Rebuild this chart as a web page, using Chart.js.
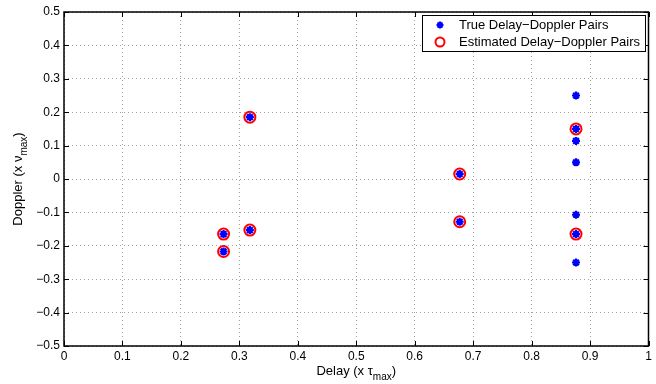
<!DOCTYPE html>
<html>
<head>
<meta charset="utf-8">
<script src="https://cdn.jsdelivr.net/npm/chart.js@4"></script>
<style>
  html, body { margin: 0; padding: 0; background: #fff; }
  #wrap { width: 656px; height: 384px; }
</style>
</head>
<body>
<div id="wrap"><canvas id="chart" width="656" height="384"></canvas></div>
<script>
// === DATA ===
const trueDelay   = [0.273, 0.273, 0.318, 0.318, 0.677, 0.677, 0.876, 0.876, 0.876, 0.876, 0.876, 0.876, 0.876];
const trueDoppler = [-0.165, -0.217, 0.185, -0.153, 0.015, -0.128, 0.25, 0.15, 0.114, 0.05, -0.107, -0.165, -0.25];
const estDelay    = [0.273, 0.273, 0.318, 0.318, 0.677, 0.677, 0.876, 0.876];
const estDoppler  = [-0.165, -0.217, 0.185, -0.153, 0.015, -0.128, 0.15, -0.165];
const xTicks = [0, 0.1, 0.2, 0.3, 0.4, 0.5, 0.6, 0.7, 0.8, 0.9, 1];
const yTicks = [-0.5, -0.4, -0.3, -0.2, -0.1, 0, 0.1, 0.2, 0.3, 0.4, 0.5];
const seriesNames = ['True Delay\u2212Doppler Pairs', 'Estimated Delay\u2212Doppler Pairs'];

const FONT = '"Liberation Sans", Arial, Helvetica, sans-serif';
const BLUE = '#0000ff';
const RED = '#ff0000';

const pts = (xs, ys) => xs.map((x, i) => ({ x, y: ys[i] }));
const fmt = v => {
  const r = Math.round(v * 10) / 10;
  if (r === 0) return '0';
  const s = Math.abs(r) === 1 ? '1' : Math.abs(r).toFixed(1);
  return r < 0 ? '\u2212' + s : s;
};

// === FRAME, INWARD TICKS, AXIS TITLES, LEGEND ===
const matlabLook = {
  id: 'matlabLook',
  afterDraw(chart) {
    const { ctx, chartArea: a, scales: { x, y } } = chart;
    ctx.save();
    ctx.strokeStyle = '#000';
    ctx.lineWidth = 1;
    // inward tick marks on all four sides
    ctx.beginPath();
    xTicks.forEach(v => {
      const px = Math.round(x.getPixelForValue(v)) + 0.5;
      ctx.moveTo(px, a.bottom); ctx.lineTo(px, a.bottom - 5);
      ctx.moveTo(px, a.top); ctx.lineTo(px, a.top + 5);
    });
    yTicks.forEach(v => {
      const py = Math.round(y.getPixelForValue(v)) + 0.5;
      ctx.moveTo(a.left, py); ctx.lineTo(a.left + 5, py);
      ctx.moveTo(a.right, py); ctx.lineTo(a.right - 5, py);
    });
    ctx.stroke();
    // box
    ctx.lineWidth = 1.5;
    ctx.strokeRect(a.left, a.top, a.right - a.left, a.bottom - a.top);

    // axis titles with subscripts
    ctx.fillStyle = '#000';
    ctx.textBaseline = 'alphabetic';
    const drawSub = (parts, cx, cy) => {
      ctx.font = '13px ' + FONT;
      const w1 = ctx.measureText(parts[0]).width;
      ctx.font = '10px ' + FONT;
      const w2 = ctx.measureText(parts[1]).width;
      ctx.font = '13px ' + FONT;
      const w3 = ctx.measureText(parts[2]).width;
      let sx = cx - (w1 + w2 + w3) / 2;
      ctx.textAlign = 'left';
      ctx.fillText(parts[0], sx, cy);
      ctx.font = '10px ' + FONT;
      ctx.fillText(parts[1], sx + w1, cy + 5);
      ctx.font = '13px ' + FONT;
      ctx.fillText(parts[2], sx + w1 + w2, cy);
    };
    drawSub(['Delay (x \u03c4', 'max', ')'], (a.left + a.right) / 2, 375);
    ctx.save();
    ctx.translate(22, (a.top + a.bottom) / 2);
    ctx.rotate(-Math.PI / 2);
    drawSub(['Doppler (x \u03bd', 'max', ')'], 0, 0);
    ctx.restore();

    // legend
    const lx = 422, ly = 15, lw = 223, lh = 36;
    ctx.fillStyle = '#fff';
    ctx.fillRect(lx, ly, lw, lh);
    ctx.lineWidth = 1;
    ctx.strokeStyle = '#000';
    ctx.strokeRect(lx + 0.5, ly + 0.5, lw, lh);
    ctx.font = '13px ' + FONT;
    ctx.fillStyle = '#000';
    ctx.textAlign = 'left';
    ctx.textBaseline = 'middle';
    ctx.fillText(seriesNames[0], 459, 25.5);
    ctx.fillText(seriesNames[1], 459, 42);
    // legend markers
    ctx.strokeStyle = BLUE;
    ctx.lineWidth = 2;
    ctx.beginPath();
    const mx = 440, my = 25;
    for (let k = 0; k < 4; k++) {
      const ang = k * Math.PI / 4;
      ctx.moveTo(mx - 3.5 * Math.cos(ang), my - 3.5 * Math.sin(ang));
      ctx.lineTo(mx + 3.5 * Math.cos(ang), my + 3.5 * Math.sin(ang));
    }
    ctx.stroke();
    ctx.strokeStyle = RED;
    ctx.beginPath();
    ctx.arc(440, 42, 4.5, 0, Math.PI * 2);
    ctx.stroke();
    ctx.restore();
  }
};

const gridStyle = {
  color: '#a0a0a0',
  lineWidth: 1,
  drawTicks: false
};

new Chart(document.getElementById('chart'), {
  type: 'scatter',
  data: {
    datasets: [
      {
        label: seriesNames[0],
        data: pts(trueDelay, trueDoppler),
        pointStyle: 'star',
        pointRadius: 4,
        borderColor: BLUE,
        backgroundColor: BLUE,
        borderWidth: 2.2
      },
      {
        label: seriesNames[1],
        data: pts(estDelay, estDoppler),
        pointStyle: 'circle',
        pointRadius: 5.5,
        borderColor: RED,
        backgroundColor: 'rgba(0,0,0,0)',
        borderWidth: 2
      }
    ]
  },
  options: {
    responsive: false,
    animation: false,
    layout: { padding: { top: 12, right: 7, left: 0, bottom: 0 } },
    plugins: {
      legend: { display: false },
      tooltip: { enabled: false }
    },
    scales: {
      x: {
        type: 'linear',
        min: 0, max: 1,
        afterFit: s => { s.height = 38; },
        afterBuildTicks: s => { s.ticks = xTicks.map(v => ({ value: v })); },
        grid: { ...gridStyle, display: true },
        border: { display: false, dash: [1, 3] },
        ticks: { color: '#000', font: { family: FONT, size: 12 }, padding: 3, maxRotation: 0, callback: fmt }
      },
      y: {
        type: 'linear',
        min: -0.5, max: 0.5,
        afterFit: s => { s.width = 64; },
        afterBuildTicks: s => { s.ticks = yTicks.map(v => ({ value: v })); },
        grid: { ...gridStyle, display: true },
        border: { display: false, dash: [1, 3] },
        ticks: { color: '#000', font: { family: FONT, size: 12 }, padding: 4, callback: fmt }
      }
    }
  },
  plugins: [matlabLook]
});
</script>
</body>
</html>
